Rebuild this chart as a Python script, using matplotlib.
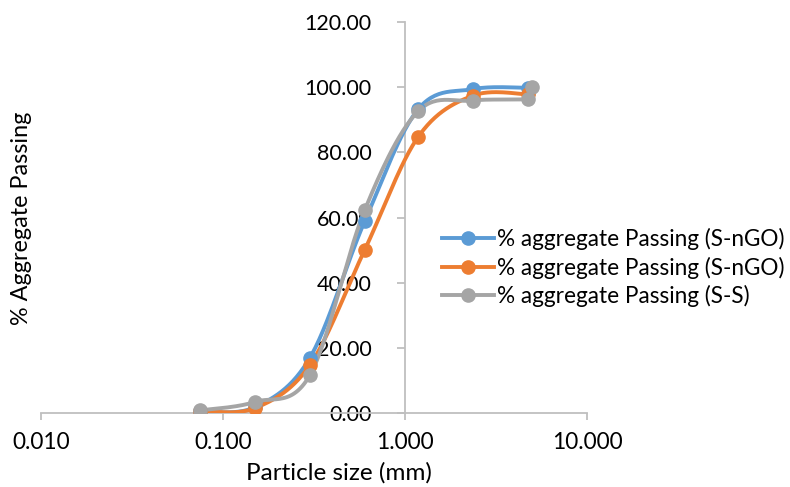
import numpy as np
import matplotlib
matplotlib.use("Agg")
import matplotlib.pyplot as plt
from matplotlib.ticker import FixedLocator, FuncFormatter

plt.rcParams['font.family'] = ['Lato', 'DejaVu Sans']

# Data
size_blue = [0.075, 0.15, 0.3, 0.6, 1.18, 2.36, 4.75]
pass_blue = [0.5, 1.8, 16.9, 58.8, 93.2, 99.4, 99.8]
size_orange = [0.075, 0.15, 0.3, 0.6, 1.18, 2.36, 4.75]
pass_orange = [0.6, 1.5, 14.7, 50.0, 84.7, 97.4, 97.8]
size_gray = [0.075, 0.15, 0.3, 0.6, 1.18, 2.36, 4.75, 5.0]
pass_gray = [0.8, 3.4, 11.6, 62.2, 92.6, 95.9, 96.5, 100.0]

labels = ["% aggregate Passing (S-nGO)", "% aggregate Passing (S-nGO)", "% aggregate Passing (S-S)"]
colors = ["#5B9BD5", "#ED7D31", "#A5A5A5"]

FS = 16.3
W, H = 790, 487
fig = plt.figure(figsize=(7.9, 4.87), dpi=100)
ax = fig.add_axes([41/W, 74/H, 546/W, 391/H])
ax.set_xscale('log')
ax.set_xlim(0.01, 10)
ax.set_ylim(0, 120)


def smooth(xs, ys, n=30):
    # Excel-like smoothed line (Catmull-Rom Bezier) in display space
    pts = ax.transData.transform(np.column_stack([xs, ys]))
    P = np.vstack([pts[0], pts, pts[-1]])
    out = []
    for i in range(1, len(P) - 2):
        p0, p1, p2, p3 = P[i - 1], P[i], P[i + 1], P[i + 2]
        c1 = p1 + (p2 - p0) / 6.0
        c2 = p2 - (p3 - p1) / 6.0
        t = np.linspace(0, 1, n)[:, None]
        seg = ((1 - t) ** 3) * p1 + 3 * ((1 - t) ** 2) * t * c1 + 3 * (1 - t) * t ** 2 * c2 + t ** 3 * p2
        out.append(seg if i == 1 else seg[1:])
    out = np.vstack(out)
    d = ax.transData.inverted().transform(out)
    return d[:, 0], d[:, 1]


series = [(size_blue, pass_blue), (size_orange, pass_orange), (size_gray, pass_gray)]
handles = []
for (xs, ys), c, lab in zip(series, colors, labels):
    sx, sy = smooth(xs, ys)
    ax.plot(sx, sy, color=c, lw=2.8, solid_capstyle='round', zorder=3)
    ax.plot(xs, ys, 'o', color=c, ms=9.5, zorder=4)
    h, = ax.plot([], [], '-o', color=c, lw=2.8, ms=9.5, label=lab)
    handles.append(h)

for s in ['top', 'right']:
    ax.spines[s].set_visible(False)
ax.spines['left'].set_position(('data', 1))
ax.spines['left'].set_color('#BFBFBF')
ax.spines['bottom'].set_color('#BFBFBF')
ax.spines['left'].set_linewidth(1.3)
ax.spines['bottom'].set_linewidth(1.3)

ax.xaxis.set_major_locator(FixedLocator([0.01, 0.1, 1, 10]))
ax.xaxis.set_minor_locator(FixedLocator([]))
ax.xaxis.set_major_formatter(FuncFormatter(lambda v, p: f"{v:.3f}"))
ax.set_yticks(np.arange(0, 121, 20))
ax.yaxis.set_major_formatter(FuncFormatter(lambda v, p: f"{v:.2f}"))
ax.tick_params(axis='x', direction='out', length=5, width=1.3, color='#BFBFBF', labelsize=FS, pad=9)
ax.tick_params(axis='y', direction='out', length=6, width=1.3, color='#BFBFBF', labelsize=15.5, pad=18)

fig.text(339/W, 1 - 473/H, "Particle size (mm)", fontsize=17.5, ha='center', va='center')
fig.text(22/W, 1 - 218/H, "% Aggregate Passing", rotation=90, fontsize=16.8, ha='center', va='center')

leg = fig.legend(handles=handles, loc='upper left', bbox_to_anchor=(442/W, 1 - 228/H), frameon=False,
                 fontsize=FS, handlelength=2.3, handletextpad=0.15, labelspacing=0.28,
                 borderaxespad=0, borderpad=0)

fig.savefig("out.png", dpi=100)
